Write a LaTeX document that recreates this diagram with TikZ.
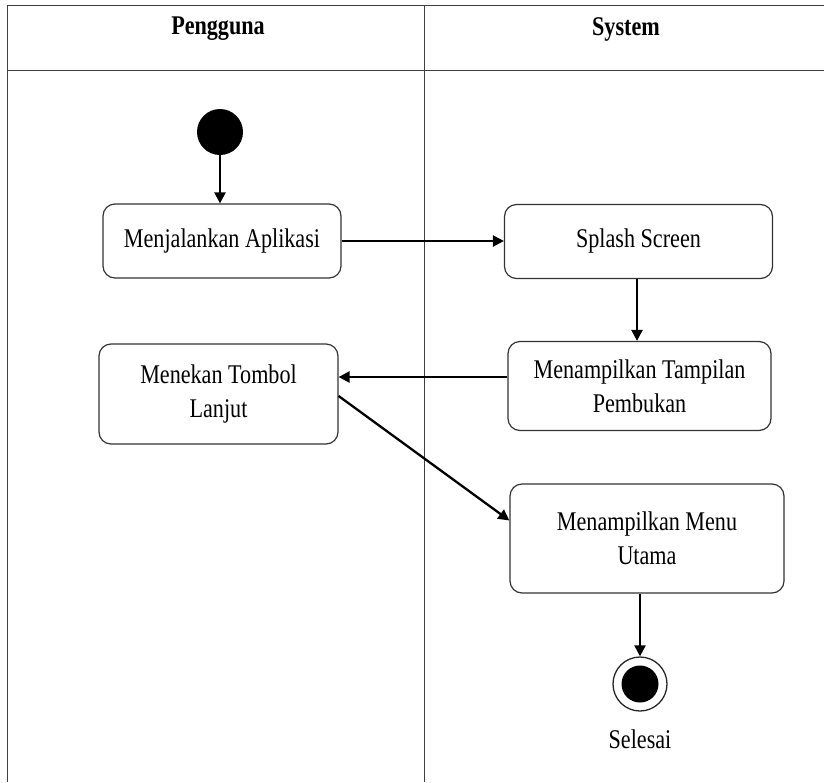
\documentclass[tikz,border=0pt]{standalone}
\usepackage{fontspec}
\setmainfont{Liberation Serif}[FakeStretch=0.82]
\usetikzlibrary{arrows.meta,calc}
\begin{document}
\begin{tikzpicture}[x=1pt,y=-1pt,
  frame/.style={draw=black!75,line width=1pt},
  actbox/.style={draw=black!80,line width=1.2pt,rounded corners=12pt,align=center,
    font=\fontsize{27}{34}\selectfont,inner sep=0pt},
  flow/.style={line width=2.3pt,-{Triangle[length=11pt,width=11pt]}},
  lbl/.style={font=\fontsize{27}{34}\selectfont,inner sep=0pt}]
\useasboundingbox (0,0) rectangle (824,782);
% frame
\draw[frame] (7,5) -- (824,5);
\draw[frame] (7,70) -- (824,70);
\draw[frame] (7,5) -- (7,782);
\draw[frame] (424,5) -- (424,782);
\node[lbl,font=\fontsize{27}{34}\selectfont\bfseries] (hp) at (218,29) {Pengguna};
\node[lbl,font=\fontsize{27}{34}\selectfont\bfseries] (hs) at (626,29) {System};
% nodes
\node[circle,fill=black,minimum size=46pt,inner sep=0pt] (start) at (220,132) {};
\node[actbox,minimum width=238pt,minimum height=74pt] (a1) at (222,241) {Menjalankan Aplikasi};
\node[actbox,minimum width=268pt,minimum height=74pt] (s1) at (638.5,241.5) {Splash Screen};
\node[actbox,minimum width=263pt,minimum height=89pt] (s2) at (639.5,386) {Menampilkan Tampilan\\Pembukan};
\node[actbox,minimum width=239pt,minimum height=100pt] (a2) at (218.5,394) {Menekan Tombol\\Lanjut};
\node[actbox,minimum width=274pt,minimum height=109pt] (s3) at (647,538.5) {Menampilkan Menu\\Utama};
\node[circle,draw=black!85,line width=1.3pt,minimum size=54pt,inner sep=0pt] (end) at (640,684) {};
\node[circle,fill=black,minimum size=37pt,inner sep=0pt] (endin) at (end.center) {};
\node[lbl] (sel) at (640,739) {Selesai};
% connectors
\draw[flow] (start.south) -- (start.south |- a1.north);
\draw[flow] (a1.east) -- (s1.west |- a1.east);
\draw[flow] (s1.south -| 637,0) -- (637,0 |- s2.north);
\draw[flow] ([yshift=9pt]s2.west) -- ([yshift=9pt]s2.west -| a2.east);
\draw[flow] ([yshift=-2pt]a2.east) -- ([yshift=18pt]s3.west);
\draw[flow] (s3.south -| end.north) -- (end.north);
\end{tikzpicture}
\end{document}
